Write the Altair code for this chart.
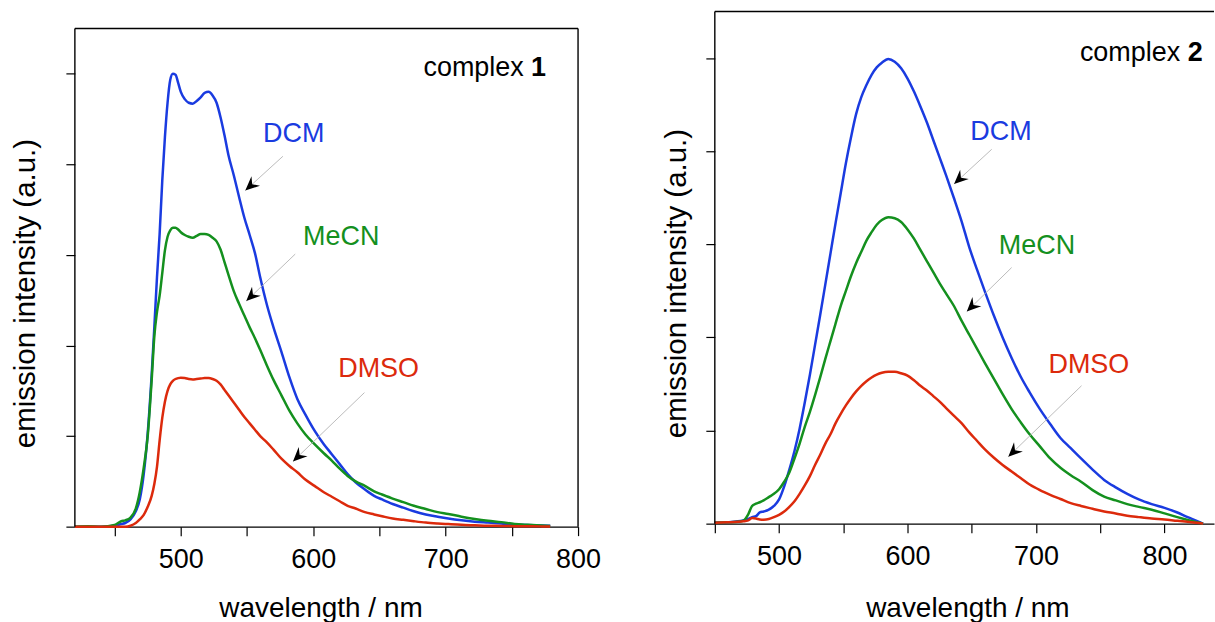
import altair as alt
import pandas as pd

# ---------------- data: complex 1 ----------------
WL1 = [420, 430, 440, 450, 455, 458, 462, 466, 469, 472, 475, 478, 480, 482, 484, 486, 488, 490, 492, 494,
       496, 498, 500, 503, 506, 509, 512, 515, 518, 521, 524, 527, 530, 533, 536, 540, 544, 548, 552, 556,
       560, 565, 570, 576, 582, 588, 594, 601, 608, 614, 620, 626, 632, 639, 646, 652, 660, 668, 676, 685,
       694, 702, 712, 722, 732, 742, 752, 762, 772, 779]
DCM1 = [0.0, 0.0, 0.0, 0.01, 0.03, 0.04, 0.08, 0.17, 0.3, 0.58, 1.03, 1.68, 2.2, 2.75, 3.23, 3.82, 4.3, 4.68, 4.93, 5.0,
        4.99, 4.9, 4.8, 4.72, 4.68, 4.67, 4.7, 4.74, 4.79, 4.8, 4.76, 4.68, 4.52, 4.32, 4.1, 3.88, 3.64, 3.41, 3.22, 3.02,
        2.75, 2.45, 2.2, 1.93, 1.65, 1.41, 1.24, 1.06, 0.91, 0.8, 0.69, 0.58, 0.49, 0.41, 0.34, 0.3, 0.25, 0.21, 0.17, 0.135,
        0.11, 0.09, 0.07, 0.055, 0.045, 0.035, 0.025, 0.018, 0.013, 0.01]
MECN1 = [0.0, 0.005, 0.0, 0.02, 0.06, 0.07, 0.1, 0.2, 0.38, 0.65, 1.0, 1.62, 2.1, 2.37, 2.55, 2.8, 3.05, 3.2, 3.27, 3.3,
         3.3, 3.28, 3.25, 3.22, 3.2, 3.19, 3.21, 3.23, 3.23, 3.22, 3.19, 3.15, 3.06, 2.92, 2.78, 2.6, 2.46, 2.33, 2.2, 2.08,
         1.95, 1.78, 1.62, 1.45, 1.28, 1.14, 1.02, 0.91, 0.81, 0.73, 0.64, 0.56, 0.5, 0.45, 0.39, 0.355, 0.31, 0.27, 0.23, 0.195,
         0.16, 0.14, 0.11, 0.085, 0.065, 0.05, 0.03, 0.02, 0.012, 0.008]
DMSO1 = [0.0, 0.0, 0.0, 0.0, 0.0, 0.0, 0.01, 0.04, 0.08, 0.13, 0.22, 0.34, 0.47, 0.66, 0.95, 1.2, 1.38, 1.5, 1.57, 1.61,
         1.63, 1.64, 1.645, 1.64, 1.63, 1.625, 1.63, 1.635, 1.64, 1.64, 1.63, 1.61, 1.57, 1.51, 1.45, 1.37, 1.29, 1.21, 1.14, 1.07,
         1.0, 0.93, 0.85, 0.75, 0.67, 0.6, 0.52, 0.45, 0.38, 0.33, 0.28, 0.23, 0.2, 0.16, 0.135, 0.115, 0.09, 0.075, 0.06, 0.045,
         0.035, 0.028, 0.02, 0.015, 0.01, 0.008, 0.005, 0.004, 0.003, 0.002]

# ---------------- data: complex 2 ----------------
WL2 = [450, 460, 468, 472, 476, 479, 482, 485, 488, 492, 496, 500, 504, 508, 512, 516, 520, 524, 528, 532,
       536, 540, 544, 548, 552, 556, 560, 564, 568, 572, 576, 580, 585, 590, 595, 600, 605, 610, 615, 620,
       625, 630, 636, 642, 648, 654, 660, 667, 674, 681, 688, 695, 703, 711, 719, 727, 735, 744, 753, 762,
       771, 780, 790, 800, 810, 818, 825, 830]
DCM2 = [0.01, 0.015, 0.025, 0.035, 0.05, 0.07, 0.08, 0.12, 0.13, 0.15, 0.19, 0.26, 0.4, 0.58, 0.78, 1.02, 1.3, 1.6, 1.92, 2.24,
        2.57, 2.9, 3.23, 3.55, 3.87, 4.15, 4.4, 4.58, 4.71, 4.82, 4.9, 4.95, 4.99, 4.96, 4.89, 4.78, 4.64, 4.48, 4.31, 4.12,
        3.93, 3.74, 3.5, 3.25, 2.97, 2.73, 2.5, 2.24, 2.0, 1.78, 1.58, 1.41, 1.23, 1.07, 0.92, 0.81, 0.7, 0.58, 0.47, 0.39,
        0.32, 0.26, 0.21, 0.17, 0.12, 0.07, 0.03, 0.0]
MECN2 = [0.01, 0.015, 0.02, 0.03, 0.1, 0.19, 0.215, 0.23, 0.25, 0.285, 0.32, 0.37, 0.45, 0.55, 0.7, 0.86, 1.04, 1.2, 1.38, 1.57,
         1.77, 1.96, 2.15, 2.34, 2.5, 2.66, 2.8, 2.92, 3.04, 3.13, 3.21, 3.26, 3.29, 3.28, 3.24, 3.16, 3.06, 2.94, 2.82, 2.7,
         2.58, 2.47, 2.34, 2.18, 2.03, 1.88, 1.73, 1.56, 1.39, 1.23, 1.09, 0.96, 0.83, 0.7, 0.6, 0.52, 0.45, 0.36, 0.29, 0.25,
         0.21, 0.18, 0.15, 0.11, 0.07, 0.04, 0.015, 0.0]
DMSO2 = [0.01, 0.015, 0.02, 0.025, 0.035, 0.06, 0.055, 0.045, 0.043, 0.05, 0.07, 0.095, 0.13, 0.18, 0.24, 0.32, 0.41, 0.51, 0.63, 0.74,
         0.86, 0.96, 1.08, 1.18, 1.27, 1.35, 1.42, 1.48, 1.53, 1.57, 1.6, 1.62, 1.63, 1.63, 1.615, 1.59, 1.54, 1.48, 1.43, 1.37,
         1.31, 1.24, 1.16, 1.08, 0.98, 0.89, 0.8, 0.71, 0.63, 0.56, 0.49, 0.42, 0.36, 0.31, 0.265, 0.22, 0.19, 0.16, 0.13, 0.11,
         0.085, 0.07, 0.055, 0.045, 0.03, 0.02, 0.01, 0.0]

SOLVENTS = ["DCM", "MeCN", "DMSO"]
COLORS = ["#1a3be0", "#14901e", "#dc2a0c"]
X_TICKS = [450, 500, 550, 600, 650, 700, 750, 800]
Y_TICKS = [0, 1, 2, 3, 4, 5]

# annotation anchors (label centre, leader start, arrow tip) in data units
ANN1 = dict(label=SOLVENTS,
            lx=[585.3, 621.1, 649.4], ly=[4.337, 3.196, 1.741],
            sx=[577.1, 586.4, 638.7], sy=[4.089, 3.009, 1.480],
            tx=[548.7, 549.4, 584.7], ty=[3.711, 2.491, 0.720],
            ang=[137.7, 136.2, 136.0])
ANN2 = dict(label=SOLVENTS,
            lx=[672.7, 700.7, 741.1], ly=[4.206, 2.983, 1.706],
            sx=[665.5, 681.0, 735.4], sy=[4.02, 2.75, 1.481],
            tx=[636.2, 646.1, 678.4], ty=[3.648, 2.278, 0.719],
            ang=[137.4, 135.6, 136.0])

FONT = "Liberation Sans"
ARROW = "M0,0 L-1,-0.45 L-0.66,0 L-1,0.45 Z"


def panel(wl, series, xdom, ydom, frame_top, width, height, ann, tag, tag_pos,
          right_frame, ytitle_x, ytitle_y, xtitle_x, xtitle_y):
    rows = []
    for name, vals in zip(SOLVENTS, series):
        for w, v in zip(wl, vals):
            rows.append({"wl": w, "val": v, "solvent": name})
    df = pd.DataFrame(rows)

    xs = alt.Scale(domain=xdom, nice=False, zero=False)
    ys = alt.Scale(domain=ydom, nice=False, zero=False)
    cs = alt.Scale(domain=SOLVENTS, range=COLORS)

    xaxis = alt.Axis(values=X_TICKS, format="d",
                     labelExpr="datum.value % 100 === 0 ? datum.label : ''",
                     title="wavelength / nm", grid=False,
                     labelFontSize=27, labelColor="black", labelPadding=11, labelFont=FONT,
                     labelFlush=False, labelOverlap=False,
                     tickSize=9, tickWidth=1.2, tickColor="black",
                     domain=True, domainColor="black", domainWidth=1.4,
                     titleFontSize=28, titleFontWeight="normal", titleColor="black", titleFont=FONT,
                     titleX=xtitle_x, titleY=xtitle_y, titleAlign="center", titleBaseline="alphabetic")
    yaxis = alt.Axis(values=Y_TICKS, labels=False, grid=False, domain=False,
                     tickSize=9, tickWidth=1.2, tickColor="black",
                     title="emission intensity (a.u.)", titleFontSize=29.5, titleFontWeight="normal",
                     titleColor="black", titleFont=FONT, titleAngle=-90,
                     titleX=ytitle_x, titleY=ytitle_y, titleAlign="center", titleBaseline="middle")

    def X(f):
        return alt.X(f, scale=xs, axis=xaxis)

    def Y(f):
        return alt.Y(f, scale=ys, axis=yaxis)

    lines = alt.Chart(df).mark_line(strokeWidth=2.5, interpolate="monotone").encode(
        x=X("wl:Q"), y=Y("val:Q"),
        color=alt.Color("solvent:N", scale=cs, legend=None),
        detail="solvent:N",
    )

    # frame (left, top and optionally right edges; bottom edge is the x axis line)
    fr = [{"x": xdom[0], "x2": xdom[0], "y": 0, "y2": frame_top},
          {"x": xdom[0], "x2": xdom[1], "y": frame_top, "y2": frame_top}]
    if right_frame:
        fr.append({"x": xdom[1], "x2": xdom[1], "y": 0, "y2": frame_top})
    frame = alt.Chart(pd.DataFrame(fr)).mark_rule(color="black", strokeWidth=1.4).encode(
        x=X("x:Q"), x2="x2:Q", y=Y("y:Q"), y2="y2:Q")

    adf = pd.DataFrame(ann)
    leaders = alt.Chart(adf).mark_rule(color="#b4b4b4", strokeWidth=0.9).encode(
        x=X("sx:Q"), x2="tx:Q", y=Y("sy:Q"), y2="ty:Q")
    heads = alt.Chart(adf).mark_point(shape=ARROW, filled=True, size=800, color="black",
                                      opacity=1, strokeWidth=0).encode(
        x=X("tx:Q"), y=Y("ty:Q"),
        angle=alt.Angle("ang:Q", scale=None))
    labels = alt.Chart(adf).mark_text(fontSize=27, font=FONT, align="center", baseline="middle").encode(
        x=X("lx:Q"), y=Y("ly:Q"),
        text="label:N",
        color=alt.Color("label:N", scale=cs, legend=None))

    tdf = pd.DataFrame([{"x": tag_pos[0], "y": tag_pos[2], "t": "complex"}])
    tdf2 = pd.DataFrame([{"x": tag_pos[1], "y": tag_pos[2], "t": tag}])
    tag1 = alt.Chart(tdf).mark_text(fontSize=27, font=FONT, align="right", baseline="alphabetic",
                                    color="black").encode(
        x=X("x:Q"), y=Y("y:Q"), text="t:N")
    tag2 = alt.Chart(tdf2).mark_text(fontSize=27, font=FONT, align="left", baseline="alphabetic",
                                     fontWeight="bold", color="black").encode(
        x=X("x:Q"), y=Y("y:Q"), text="t:N")

    return alt.layer(lines, frame, leaders, heads, labels, tag1, tag2).properties(
        width=width, height=height)


left = panel(WL1, [DCM1, MECN1, DMSO1], [420, 800], [0, 5.6874], 5.5, 504, 516, ANN1, "1",
             (759.0, 764.5, 4.976), True, -49.5, 282, 246, 90)
right = panel(WL2, [DCM2, MECN2, DMSO2], [450, 838.5], [0, 5.5], 5.5, 500, 513, ANN2, "2",
              (812.2, 818.0, 4.97), False, -38, 272, 253, 93)

chart = alt.hconcat(left, right, spacing=137, bounds="flush").configure_view(
    stroke=None).properties(
    padding={"left": 10, "top": 10, "right": 0, "bottom": 0})

chart.save("out.html", embed_options={"renderer": "svg", "actions": False})
